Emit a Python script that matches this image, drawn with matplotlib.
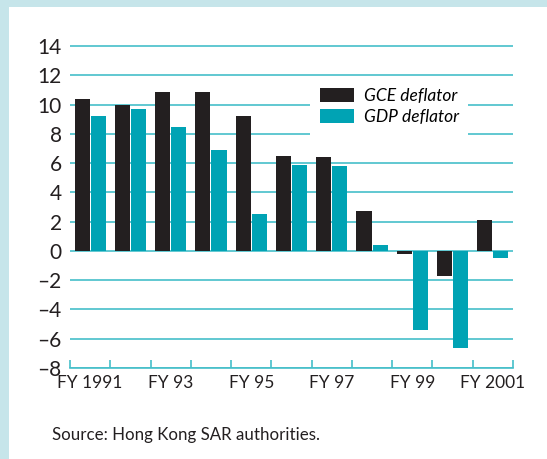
import matplotlib
matplotlib.use("Agg")
import matplotlib.pyplot as plt
from matplotlib.patches import Rectangle, Patch
import numpy as np

years = ["FY 1991", "FY 92", "FY 93", "FY 94", "FY 95", "FY 96", "FY 97",
         "FY 98", "FY 99", "FY 2000", "FY 2001"]
gce = [10.4, 10.0, 10.9, 10.9, 9.2, 6.5, 6.4, 2.7, -0.2, -1.7, 2.1]
gdp = [9.2, 9.7, 8.5, 6.9, 2.5, 5.9, 5.8, 0.4, -5.4, -6.6, -0.5]
xlabels = ["FY 1991", "FY 93", "FY 95", "FY 97", "FY 99", "FY 2001"]
yticks = [14, 12, 10, 8, 6, 4, 2, 0, -2, -4, -6, -8]

BLACK = "#231f20"
TEAL = "#00a3b4"
GRID = "#45bfc9"
BORDER = "#c6e5ea"

plt.rcParams['font.family'] = ['Lato', 'DejaVu Sans']

W, H = 547, 459
fig = plt.figure(figsize=(W / 100, H / 100), dpi=100)

# light blue border (left and top)
fig.patches.append(Rectangle((0, 0), 8.5 / W, 1, transform=fig.transFigure,
                             facecolor=BORDER, edgecolor='none', zorder=0))
fig.patches.append(Rectangle((0, 1 - 7 / H), 1, 7 / H, transform=fig.transFigure,
                             facecolor=BORDER, edgecolor='none', zorder=0))

left, right = 70, 513
bottom_px, top_px = 368, 251 - 15 * 14.63
ax = fig.add_axes([left / W, (H - bottom_px) / H, (right - left) / W,
                   (bottom_px - top_px) / H])

x = np.arange(len(years))
w = 0.375
ax.bar(x - 0.2, gce, width=w, color=BLACK, label="GCE deflator", zorder=3)
ax.bar(x + 0.2, gdp, width=w, color=TEAL, label="GDP deflator", zorder=3)

ax.set_xlim(-0.5, len(years) - 0.5)
ax.set_ylim(-8, 15)

ax.set_yticks(yticks)
ax.set_yticklabels([("\u2013" + str(-v)) if v < 0 else str(v) for v in yticks],
                   fontsize=15, color=BLACK)
ax.tick_params(axis='y', length=0, pad=6)
ax.yaxis.grid(True, color=GRID, linewidth=1.2)
ax.set_axisbelow(True)

ax.set_xticks(np.arange(len(years) + 1) - 0.5)
ax.set_xticklabels([])
ax.tick_params(axis='x', which='major', direction='in', length=6, width=1.2,
               color=GRID)
ax.set_xticks(x[::2], minor=True)
ax.set_xticklabels(xlabels, minor=True, fontsize=12.5, color=BLACK)
ax.tick_params(axis='x', which='minor', length=0, pad=5)

for s in ['top', 'right', 'left']:
    ax.spines[s].set_visible(False)
ax.spines['bottom'].set_color(GRID)
ax.spines['bottom'].set_linewidth(1.2)

handles = [Patch(facecolor=BLACK, label="GCE deflator"),
           Patch(facecolor=TEAL, label="GDP deflator")]
leg = fig.legend(handles=handles, loc='upper left',
                 bbox_to_anchor=(310 / W, 1 - 78 / H),
                 bbox_transform=fig.transFigure, borderaxespad=0,
                 frameon=True, fancybox=False, framealpha=1,
                 edgecolor='none', facecolor='white',
                 prop={'style': 'italic', 'size': 12.5},
                 handlelength=2.0, handleheight=0.9, handletextpad=0.55,
                 labelspacing=0.3, borderpad=0.55)
leg.set_zorder(5)

fig.text(52 / W, (H - 440) / H, "Source: Hong Kong SAR authorities.",
         fontsize=12.2, color=BLACK, va='baseline', ha='left')

fig.savefig("out.png", dpi=100)
